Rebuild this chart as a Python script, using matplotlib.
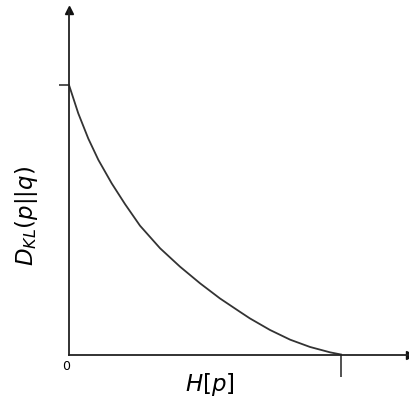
import matplotlib
matplotlib.use("Agg")
import matplotlib.pyplot as plt

# Curve values (x: H[p] scaled 0..1, y: D_KL scaled 0..1)
h_vals = [0.0, 0.034, 0.071, 0.108, 0.157, 0.206, 0.261, 0.335, 0.408,
          0.482, 0.555, 0.629, 0.665, 0.739, 0.813, 0.886, 0.960, 1.0]
d_vals = [1.0, 0.895, 0.801, 0.722, 0.635, 0.558, 0.478, 0.394, 0.326,
          0.264, 0.208, 0.158, 0.134, 0.091, 0.055, 0.028, 0.008, 0.0]
x_label = r"$H[p]$"
y_label = r"$D_{KL}(p||q)$"
origin_label = "0"

fig = plt.figure(figsize=(4.10, 4.05), dpi=100)
ax = fig.add_axes([69/410, 50.5/405, 341/410, 344.5/405])
ax.plot(h_vals, d_vals, color="#333333", lw=1.3, solid_joinstyle="round")
ax.set_xlim(0, 341/272)
ax.set_ylim(0, 344.5/269.5)

for s in ["top", "right"]:
    ax.spines[s].set_visible(False)
for s in ["left", "bottom"]:
    ax.spines[s].set_color("#222222")
    ax.spines[s].set_linewidth(1.3)

ax.set_xticks([1.0])
ax.set_xticklabels([""])
ax.set_yticks([1.0])
ax.set_yticklabels([""])
ax.tick_params(axis="x", direction="out", length=16, width=1.1, color="#222222")
ax.tick_params(axis="y", direction="out", length=7, width=1.1, color="#222222")

# arrow heads
ax.plot(0, 1, marker="^", color="#111111", markersize=6, transform=ax.transAxes, clip_on=False)
ax.plot(1, 0, marker=">", color="#111111", markersize=6, transform=ax.transAxes, clip_on=False)

fig.text(66/410, 1 - 366/405, origin_label, ha="center", va="center", fontsize=9)
fig.text(210/410, 1 - 384/405, x_label, ha="center", va="center", fontsize=16.5)
fig.text(27/410, 1 - 216/405, y_label, ha="center", va="center", fontsize=16.5, rotation=90)

fig.savefig("out.png", dpi=100, facecolor="white")
